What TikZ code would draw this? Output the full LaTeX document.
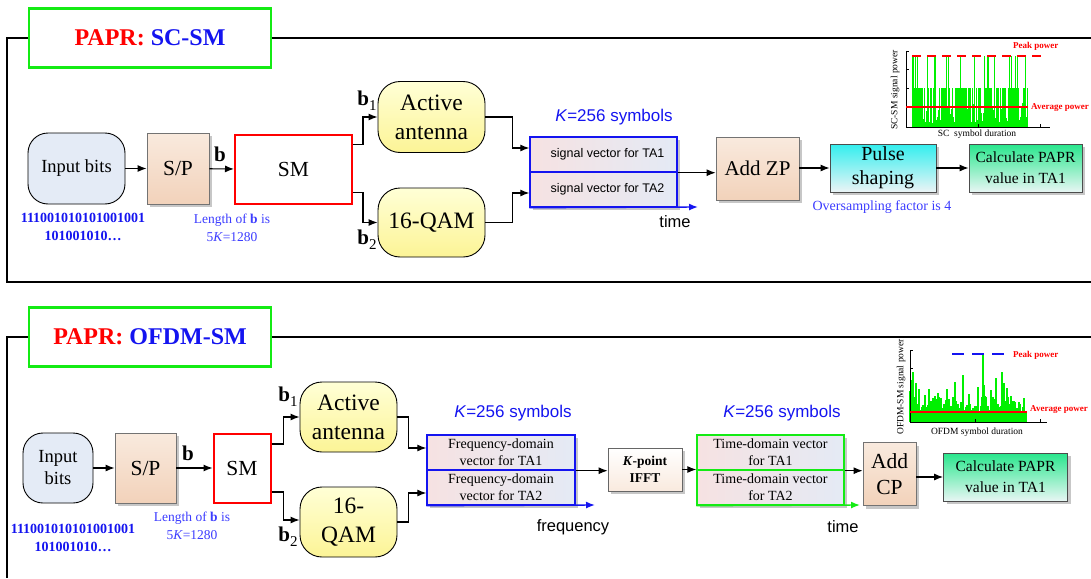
\documentclass[tikz,border=0pt]{standalone}
\usepackage{fontspec}
\setmainfont{Liberation Serif}
\setsansfont{Liberation Sans}
\usetikzlibrary{arrows.meta,shadows,calc}
\definecolor{tgreen}{RGB}{20,235,20}
\definecolor{tblue}{RGB}{20,20,240}
\definecolor{lblue}{RGB}{60,60,255}
\definecolor{peachT}{RGB}{249,234,222}
\definecolor{peachB}{RGB}{242,210,186}
\definecolor{inbg}{RGB}{228,235,246}
\definecolor{yelT}{RGB}{255,255,214}
\definecolor{yelB}{RGB}{252,244,150}
\definecolor{svL}{RGB}{246,226,226}
\definecolor{svR}{RGB}{228,234,245}
\definecolor{cyT}{RGB}{50,238,238}
\definecolor{cyB}{RGB}{236,244,246}
\definecolor{grT}{RGB}{40,230,140}
\definecolor{grB}{RGB}{232,246,244}
\definecolor{sigG}{RGB}{0,240,0}
\newcommand\fsz[2]{\fontsize{#1}{#2}\selectfont}
\begin{document}
\begin{tikzpicture}[x=1pt,y=-1pt,
  frame/.style={draw,line width=1.1pt},
  titlebox/.style={draw=tgreen,line width=2.6pt,fill=white,minimum width=242,minimum height=59,inner sep=0,font=\fsz{24}{28}\bfseries},
  shd/.style={general shadow={fill=black!22,shadow xshift=3pt,shadow yshift=-3pt}},
  ibox/.style={draw,line width=0.9pt,fill=inbg,rounded corners=20,inner sep=0,align=center},
  peach/.style={draw=black!55,line width=0.8pt,top color=peachT,bottom color=peachB,inner sep=0,align=center,shd},
  smbox/.style={draw=red,line width=2pt,fill=white,inner sep=0,font=\fsz{21.5}{24}},
  ybox/.style={draw,line width=0.9pt,top color=yelT,bottom color=yelB,rounded corners=22,inner sep=0,align=center,font=\fsz{23.5}{29}},
  svbox/.style={draw=tblue,line width=1.4pt,left color=svL,right color=svR,inner sep=0,align=center,shd},
  tvbox/.style={draw=tgreen,line width=1.4pt,left color=svL,right color=svR,inner sep=0,align=center,shd},
  cybox/.style={draw=black!70,line width=0.8pt,top color=cyT,bottom color=cyB,inner sep=0,align=center,shd},
  grbox/.style={draw=black!70,line width=0.8pt,top color=grT,bottom color=grB,inner sep=0,align=center,shd,font=\fsz{15.5}{21}},
  ifbox/.style={draw=black!60,line width=0.8pt,top color=white,bottom color=peachT,inner sep=0,align=center,shd},
  arr/.style={-{Latex[length=9pt,width=7pt]},line width=1.1pt},
  binlbl/.style={text=tblue,font=\fsz{14}{17}\bfseries,inner sep=0},
  lenlbl/.style={text=lblue,font=\fsz{13.5}{16},inner sep=0},
  klbl/.style={text=tblue,font=\sffamily\fsz{17}{20},inner sep=0},
  axlbl/.style={font=\sffamily\fsz{16.5}{19},inner sep=0},
  blbl/.style={font=\fsz{21}{24},inner sep=0},
  plbl/.style={text=red,font=\fsz{9}{11}\bfseries,inner sep=0},
  axt/.style={font=\fsz{9.5}{11},inner sep=0},
  sigline/.style={draw=sigG,line width=0.9pt},
  sigline2/.style={draw=sigG,line width=1.2pt},
  axis/.style={line width=0.6pt}
]
\useasboundingbox (0,0) rectangle (1091,578);

% ================= TOP PANEL =================
\node[titlebox] (t1) at (150,38) {\textcolor{red}{PAPR:} \textcolor{tblue}{SC-SM}};
\draw[frame] (t1.west) -- (7,38) -- (7,282) -- (1091,282);
\draw[frame] (t1.east) -- (1091,38);

\node[ibox,minimum width=97,minimum height=71,font=\fsz{18.5}{21}] (in1) at (76.5,168.5) {Input bits};
\node[peach,minimum width=62,minimum height=71,font=\fsz{21.5}{24}] (sp1) at (178,168.5) {S/P};
\node[smbox,minimum width=117,minimum height=69] (sm1) at (293.5,169.5) {SM};
\node[ybox,minimum width=107,minimum height=71] (act1) at (431.5,117) {Active\\antenna};
\node[ybox,minimum width=107,minimum height=69] (qam1) at (431.5,222.5) {16-QAM};
\node[svbox,minimum width=147,minimum height=35,font=\sffamily\fsz{12.5}{15}] (sv1a) at (603.5,154.5) {\hspace*{8pt}signal vector for TA1};
\node[svbox,minimum width=147,minimum height=35,font=\sffamily\fsz{12.5}{15}] (sv1b) at (603.5,189.5) {\hspace*{8pt}signal vector for TA2};
\node[peach,minimum width=83,minimum height=63,font=\fsz{21}{24}] (zp1) at (757.5,168.5) {Add ZP};
\node[cybox,minimum width=106,minimum height=48,font=\fsz{20}{24}] (ps1) at (883,168) {Pulse\\shaping};
\node[grbox,minimum width=113,minimum height=48] (cp1) at (1025.5,168) {Calculate PAPR\\value in TA1};

\node[binlbl] (bin1a) at (83,218) {111001010101001001};
\node[binlbl] (bin1b) at (83,236) {101001010…};
\node[lenlbl] (len1a) at (232,220) {Length of \textbf{b} is};
\node[lenlbl] (len1b) at (232,237) {5\textit{K}=1280};
\node[blbl] (b1) at (220,154) {\bfseries b};
\node[blbl] (b11) at (367,101) {\textbf{b}\raisebox{-5pt}{\fsz{15}{17}1}};
\node[blbl] (b12) at (367,240) {\textbf{b}\raisebox{-5pt}{\fsz{15}{17}2}};
\node[klbl] (k1) at (614,117) {\textit{K}=256 symbols};
\node[axlbl] (time1) at (675,222) {time};
\node[text=lblue,font=\fsz{14}{17},inner sep=0] (os1) at (882,207) {Oversampling factor is 4};

\draw[arr] (in1) -- (sp1);
\draw[arr] (sp1) -- (sm1);
\draw[arr] ($(sm1.east)+(0,-25)$) -- ++(10,0) |- (act1.west);
\draw[arr] ($(sm1.east)+(0,23)$) -- ++(10,0) |- (qam1.west);
\draw[arr] (act1.east) -- ++(27,0) |- ($(sv1a.west)+(0,-6.5)$);
\draw[arr] (qam1.east) -- ++(27,0) |- ($(sv1b.west)+(0,3.5)$);
\draw[arr] (sv1a.south east) -- (sv1a.south east -| zp1.west);
\draw[arr] (zp1.east |- ps1.west) -- (ps1.west);
\draw[arr] (ps1) -- (cp1);
\coordinate (tend1) at (698,207);
\draw[-{Latex[length=9pt,width=7pt]},line width=1.4pt,tblue] (sv1b.south west) -- (tend1);

% plot 1
\coordinate (o1) at (906,127);
\pgfmathsetseed{4711}
\foreach \i in {0,...,115} {
  \pgfmathsetmacro{\xx}{912+\i}
  \pgfmathrandominteger{\r}{0}{9}
  \ifnum\r<2 \def\yy{56}\else\ifnum\r<7 \def\yy{88}\else\pgfmathsetmacro{\yy}{102+rnd*22}\fi\fi
  \draw[sigline] (\xx,127) -- (\xx,\yy);
}
\draw[axis] (906,51) -- (o1) -- (1050,127);
\draw[axis] (906,69) -- (909,69) (906,88) -- (909,88) (906,51) -- (909,51);
\draw[axis] (978,127) -- (978,124) (1040,127) -- (1040,124);
\draw[red,line width=1.6pt,dash pattern=on 9pt off 6pt] (912,56) -- (1045,56);
\draw[red,line width=1.6pt] (906,107) -- (1028,107);
\node[plbl,anchor=west] (pk1) at (1013,46) {Peak power};
\node[plbl,anchor=west] (av1) at (1031,108) {Average power};
\node[axt,rotate=90] (yl1) at (895,90) {SC-SM signal power};
\node[axt] (xl1) at (977,134) {SC~ symbol duration};

% ================= BOTTOM PANEL =================
\node[titlebox] (t2) at (150,337) {\textcolor{red}{PAPR:} \textcolor{tblue}{OFDM-SM}};
\draw[frame] (t2.west) -- (7,337) -- (7,578);
\draw[frame] (t2.east) -- (1091,337);

\node[ibox,minimum width=70,minimum height=70,font=\fsz{18.5}{22}] (in2) at (58,468) {Input\\bits};
\node[peach,minimum width=61,minimum height=70,font=\fsz{21.5}{24}] (sp2) at (145.5,468) {S/P};
\node[smbox,minimum width=57,minimum height=69] (sm2) at (242,468) {SM};
\node[ybox,minimum width=97,minimum height=70] (act2) at (348.5,417) {Active\\antenna};
\node[ybox,minimum width=97,minimum height=70] (qam2) at (348.5,522) {16-\\QAM};
\node[svbox,minimum width=148,minimum height=35,font=\fsz{14}{17}] (fa) at (501,452.5) {Frequency-domain\\vector for TA1};
\node[svbox,minimum width=148,minimum height=35,font=\fsz{14}{17}] (fb) at (501,487.5) {Frequency-domain\\vector for TA2};
\node[ifbox,minimum width=74,minimum height=43,font=\fsz{13.5}{17}\bfseries] (ifft) at (645,469.5) {\textit{K}-point\\IFFT};
\node[tvbox,minimum width=147,minimum height=35,font=\fsz{14}{17}] (ta) at (770.5,452.5) {Time-domain vector\\for TA1};
\node[tvbox,minimum width=147,minimum height=35,font=\fsz{14}{17}] (tb) at (770.5,487.5) {Time-domain vector\\for TA2};
\node[peach,minimum width=53,minimum height=63,font=\fsz{21.5}{26}] (acp) at (889.5,474) {Add\\CP};
\node[grbox,minimum width=124,minimum height=48] (cp2) at (1005.5,477) {Calculate PAPR\\value in TA1};

\node[binlbl] (bin2a) at (73,529) {111001010101001001};
\node[binlbl] (bin2b) at (73,547) {101001010…};
\node[lenlbl] (len2a) at (192,518) {Length of \textbf{b} is};
\node[lenlbl] (len2b) at (192,535) {5\textit{K}=1280};
\node[blbl] (b2) at (188,453) {\bfseries b};
\node[blbl] (b21) at (288,397) {\textbf{b}\raisebox{-5pt}{\fsz{15}{17}1}};
\node[blbl] (b22) at (288,537) {\textbf{b}\raisebox{-5pt}{\fsz{15}{17}2}};
\node[klbl] (k2) at (513,413) {\textit{K}=256 symbols};
\node[klbl] (k3) at (782,413) {\textit{K}=256 symbols};
\node[axlbl] (freq) at (573,527) {frequency};
\node[axlbl] (time2) at (843,527) {time};

\draw[arr] (in2) -- (sp2);
\draw[arr] (sp2) -- (sm2);
\draw[arr] ($(sm2.east)+(0,-24)$) -- ++(12,0) |- (act2.west);
\draw[arr] ($(sm2.east)+(0,24)$) -- ++(12,0) |- ($(qam2.west)+(0,-2)$);
\draw[arr] (act2.east) -- ++(11,0) |- ($(fa.west)+(0,-4.5)$);
\draw[arr] (qam2.east) -- ++(11,0) |- ($(fb.west)+(0,5.5)$);
\draw[arr] (fa.south east) -- (fa.south east -| ifft.west);
\draw[arr] (ifft.east) -- (ifft.east -| ta.west);
\draw[arr] (ta.south east) -- (ta.south east -| acp.west);
\draw[arr] (acp.east |- cp2.west) -- (cp2.west);
\coordinate (fend) at (595,505);
\coordinate (tend2) at (860,505);
\draw[-{Latex[length=9pt,width=7pt]},line width=1.4pt,tblue] (fb.south west) -- (fend);
\draw[-{Latex[length=9pt,width=7pt]},line width=1.4pt,tgreen] (tb.south west) -- (tend2);

% plot 2
\coordinate (o2) at (910,422);
\pgfmathsetseed{2024}
\foreach \i in {0,...,116} {
  \pgfmathsetmacro{\xx}{910+\i}
  \pgfmathsetmacro{\hh}{min(50,-ln(rnd+0.002)*10+10)}
  \draw[sigline2] (\xx,422) -- (\xx,422-\hh);
}
\draw[sigline2] (983,422) -- (983,355);
\draw[sigline2] (963,422) -- (963,375);
\draw[sigline2] (1002,422) -- (1002,372);
\draw[sigline2] (911,422) -- (911,380);
\draw[axis] (910,350) -- (o2) -- (1047,422);
\draw[axis] (910,350) -- (913,350) (910,368) -- (913,368);
\draw[axis] (975,422) -- (975,419) (1040,422) -- (1040,419);
\draw[tblue,line width=1.6pt,dash pattern=on 12pt off 8pt] (952,354) -- (1005,354);
\draw[red,line width=1.6pt] (910,412) -- (1027,412);
\node[plbl,anchor=west] (pk2) at (1013,355) {Peak power};
\node[plbl,anchor=west] (av2) at (1030,410) {Average power};
\node[axt,rotate=90] (yl2) at (901,387) {OFDM-SM signal power};
\node[axt] (xl2) at (977,432) {OFDM symbol duration};
\end{tikzpicture}
\end{document}
